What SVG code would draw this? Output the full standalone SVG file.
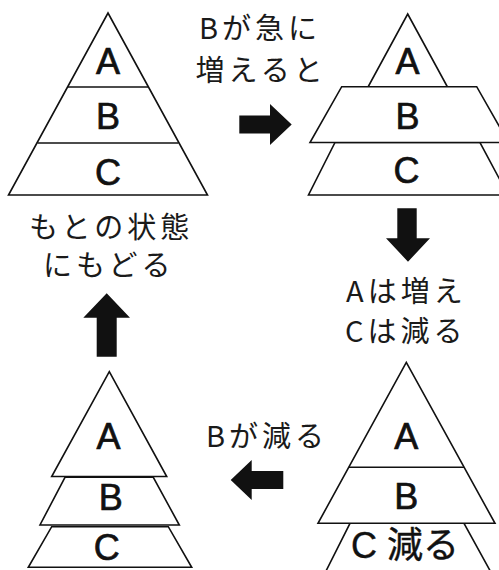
<svg xmlns="http://www.w3.org/2000/svg" width="499" height="570" viewBox="0 0 499 570">
<style>
.shape{fill:#fff;stroke:#111;stroke-width:1.6;stroke-linejoin:miter}
.line{stroke:#111;stroke-width:1.6;fill:none}
.lbl{font-family:"Liberation Sans",Arial,sans-serif;font-size:36px;fill:#111;stroke:#111;stroke-width:0.7;text-anchor:middle}
.jp{font-family:"Noto Sans CJK JP",sans-serif;font-size:29px;fill:#1a1a1a;letter-spacing:4px}
.arrow{fill:#111}
</style>
<rect width="499" height="570" fill="#fff"/>

<g id="pyramid-original">
  <polygon class="shape" points="108,13 207.5,195 8.5,195"/>
  <line class="line" x1="68" y1="87" x2="148" y2="87"/>
  <line class="line" x1="37.5" y1="143" x2="178.5" y2="143"/>
  <text class="lbl" x="108" y="74">A</text>
  <text class="lbl" x="108" y="129">B</text>
  <text class="lbl" x="108" y="184.5">C</text>
</g>

<g id="pyramid-b-increased">
  <polygon class="shape" points="407.7,14 447.5,87 368,87"/>
  <polygon class="shape" points="335,142.5 480,142.5 508,195 308.5,195"/>
  <polygon class="shape" points="341.7,86.7 476.7,86.7 508.5,142.5 310,142.5"/>
  <text class="lbl" x="407.5" y="74">A</text>
  <text class="lbl" x="407.5" y="129.3">B</text>
  <text class="lbl" x="406.5" y="183.3">C</text>
</g>

<g id="pyramid-c-decreased">
  <polygon class="shape" points="350,523.3 464,523.3 493,576 323.5,576"/>
  <polygon class="shape" points="406.3,362.3 495,523.3 318,523.3"/>
  <line class="line" x1="349" y1="467.3" x2="464" y2="467.3"/>
  <text class="lbl" x="406.3" y="449.3">A</text>
  <text class="lbl" x="406.3" y="509.3">B</text>
  <text font-family="'Liberation Sans','Noto Sans CJK JP',sans-serif" font-size="36" fill="#111" stroke="#111" stroke-width="0.4" x="351" y="558.3">C 減る</text>
</g>

<g id="pyramid-restored">
  <polygon class="shape" points="51.7,526.7 168.3,526.7 191.7,567.3 28.3,567.3"/>
  <polygon class="shape" points="65,477.3 153.3,477.3 179.3,525 40,525"/>
  <polygon class="shape" points="109.3,371.7 166.7,476.5 51.7,476.5"/>
  <text class="lbl" x="108.5" y="449.3">A</text>
  <text class="lbl" x="110.8" y="510">B</text>
  <text class="lbl" x="106.7" y="560">C</text>
</g>

<g id="connectors">
  <g id="arrow-right">
    <polygon class="arrow" points="239.3,115.5 270,115.5 270,104 291.7,124.5 270,145 270,133.5 239.3,133.5"/>
    <text class="jp" x="199" y="38.5">Bが急に</text>
    <text class="jp" x="195.5" y="80.5">増えると</text>
  </g>
  <g id="arrow-down">
    <polygon class="arrow" points="397.3,208.3 416.7,208.3 416.7,238.3 430,238.3 408,261.7 386,238.3 397.3,238.3"/>
    <text class="jp" x="346" y="301.7">Aは増え</text>
    <text class="jp" x="345" y="341.5">Cは減る</text>
  </g>
  <g id="arrow-left">
    <polygon class="arrow" points="230.7,480 251.7,460 251.7,471 283.3,471 283.3,489 251.7,489 251.7,500"/>
    <text class="jp" x="206" y="446.7">Bが減る</text>
  </g>
  <g id="arrow-up">
    <polygon class="arrow" points="106.7,293.3 130,317.7 116.7,317.7 116.7,356.7 96.7,356.7 96.7,317.7 83.3,317.7"/>
    <text class="jp" x="29" y="237.5">もとの状態</text>
    <text class="jp" x="43" y="276">にもどる</text>
  </g>
</g>
</svg>
